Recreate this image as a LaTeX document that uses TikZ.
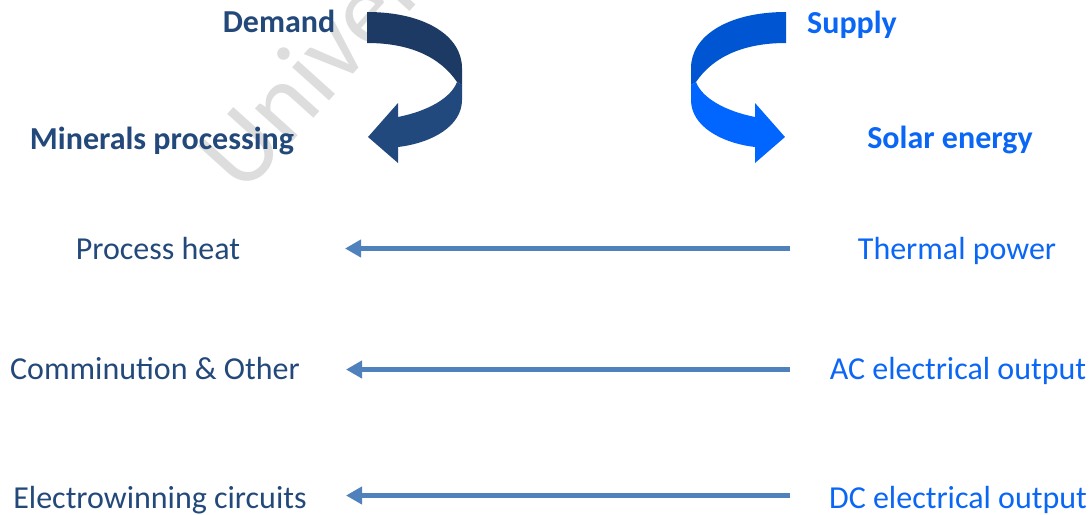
\documentclass[tikz,border=0pt]{standalone}
\usepackage{fontspec}
\setmainfont{Carlito}
\usetikzlibrary{arrows.meta}
\definecolor{leftc}{HTML}{23487A}
\definecolor{rightc}{HTML}{0A66F5}
\definecolor{flowc}{HTML}{4F81BD}
\definecolor{dtop}{HTML}{1C3A64}
\definecolor{dbot}{HTML}{21497E}
\definecolor{stop}{HTML}{0055D2}
\definecolor{sbot}{HTML}{0066FF}
\definecolor{wmark}{HTML}{DDDDDD}
\newcommand\myribbon[2]{%
  \fill[#1] (367,12) .. controls (425,12) and (462,36) .. (462,68) -- (462,85) -- (457,82)
     .. controls (440,57) and (410,43) .. (367,43) -- cycle;
  \fill[#2] (457,82) -- (462,85) -- (462,100) .. controls (462,126) and (432,143) .. (398,147)
     -- (398,163) -- (368,137) -- (398,103) -- (398,117)
     .. controls (428,111) and (451,98) .. (457,82) -- cycle;
}
\tikzset{
  txt/.style={font=\fontsize{32}{38}\selectfont, anchor=base, inner sep=0pt},
  lft/.style={txt, text=leftc},
  rgt/.style={txt, text=rightc},
  flow/.style={draw=flowc, line width=5pt, -{Triangle[length=16pt,width=17pt]}}
}
\begin{document}
\begin{tikzpicture}[x=1pt,y=-1pt]
\useasboundingbox (0,0) rectangle (1092,514);
% watermark
\begin{scope}
\clip (0,0) rectangle (1092,514);
\node[font=\fontsize{104}{124}\selectfont, text=wmark, anchor=base west, rotate=48, inner sep=0pt] (wm) at (243,197) {University};
\end{scope}
% curved arrows
\myribbon{dtop}{dbot}
\begin{scope}[xshift=1153pt, xscale=-1]
\myribbon{stop}{sbot}
\end{scope}
% headings
\node[lft, font=\bfseries\fontsize{32}{38}\selectfont] (dem) at (279,32) {Demand};
\node[lft, font=\bfseries\fontsize{32}{38}\selectfont] (min) at (162,149) {Minerals processing};
\node[rgt, font=\bfseries\fontsize{32}{38}\selectfont] (sup) at (852,33) {Supply};
\node[rgt, font=\bfseries\fontsize{32}{38}\selectfont] (sol) at (950,148) {Solar energy};
% rows
\node[lft] (ph) at (158,259) {Process heat};
\node[lft] (co) at (155,379) {Comminution \& Other};
\node[lft] (ew) at (160,508) {Electrowinning circuits};
\node[rgt] (tp) at (957,259) {Thermal power};
\node[rgt] (ac) at (958,379) {AC electrical output};
\node[rgt] (dc) at (958,508) {DC electrical output};
% connectors
\coordinate (a1s) at (790,248.5); \coordinate (a1e) at (345,248.5);
\coordinate (a2s) at (790,369.5); \coordinate (a2e) at (346,369.5);
\coordinate (a3s) at (790,495.5); \coordinate (a3e) at (346,495.5);
\draw[flow] (a1s) -- (a1e);
\draw[flow] (a2s) -- (a2e);
\draw[flow] (a3s) -- (a3e);
\end{tikzpicture}
\end{document}
